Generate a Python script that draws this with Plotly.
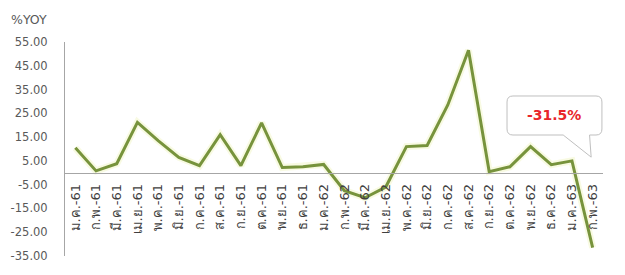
import plotly.graph_objects as go

months = ["ม.ค.-61", "ก.พ.-61", "มี.ค.-61", "เม.ย.-61", "พ.ค.-61", "มิ.ย.-61",
          "ก.ค.-61", "ส.ค.-61", "ก.ย.-61", "ต.ค.-61", "พ.ย.-61", "ธ.ค.-61",
          "ม.ค.-62", "ก.พ.-62", "มี.ค.-62", "เม.ย.-62", "พ.ค.-62", "มิ.ย.-62",
          "ก.ค.-62", "ส.ค.-62", "ก.ย.-62", "ต.ค.-62", "พ.ย.-62", "ธ.ค.-62",
          "ม.ค.-63", "ก.พ.-63"]
yoy = [10.5, 0.8, 3.8, 21.2, 13.5, 6.5,
       3.0, 16.0, 3.0, 21.0, 2.2, 2.5,
       3.5, -7.5, -10.5, -6.0, 11.0, 11.5,
       28.5, 51.5, 0.5, 2.5, 11.0, 3.4,
       5.0, -31.5]
y_ticks = [-35, -25, -15, -5, 5, 15, 25, 35, 45, 55]
y_min, y_max = -35, 55
callout_text = "-31.5%"

fig = go.Figure()
# soft glow under the line
fig.add_trace(go.Scatter(x=months, y=yoy, mode="lines",
                         line=dict(color="rgba(240,245,190,0.45)", width=7),
                         hoverinfo="skip", showlegend=False))
fig.add_trace(go.Scatter(x=months, y=yoy, mode="lines",
                         line=dict(color="#77933C", width=3),
                         showlegend=False))

zero_pos = (0 - y_min) / (y_max - y_min)

# page body has an 8px default margin; margins compensate for it
fig.update_layout(
    width=625, height=275,
    margin=dict(l=57, r=30, t=34, b=27, autoexpand=False),
    paper_bgcolor="white", plot_bgcolor="white",
    font=dict(family="'DejaVu Sans', Tahoma, 'Noto Sans', sans-serif", color="#595959"),
    xaxis=dict(
        type="category", anchor="free", position=zero_pos, automargin=False,
        showline=True, linecolor="#A6A6A6", linewidth=1,
        showgrid=False, zeroline=False,
        tickangle=-90, tickfont=dict(size=13, color="#404040"),
        ticks="", ticklabelstandoff=5, range=[-0.5, len(months) - 0.5],
    ),
    yaxis=dict(
        range=[y_min, y_max], tickvals=y_ticks, automargin=False,
        ticktext=[f"{v:.2f}" for v in y_ticks],
        tickfont=dict(size=11.5, color="#595959"),
        showline=True, linecolor="#A6A6A6", linewidth=1,
        showgrid=False, zeroline=False, ticks="",
        ticklabelstandoff=14,
    ),
)

fig.add_annotation(text="%YOY", xref="paper", yref="paper", x=-0.104, y=1.103,
                   xanchor="left", yanchor="middle", showarrow=False,
                   font=dict(size=12.5, color="#595959"))

# speech-bubble callout
L, R, T, B = 0.8216, 0.998, 0.7477, 0.5654
rx, ry = 0.011, 0.028
b1, b2, tx, ty = 0.926, 0.975, 0.978, 0.462
path = (f"M {L+rx},{T} L {R-rx},{T} Q {R},{T} {R},{T-ry} L {R},{B+ry} "
        f"Q {R},{B} {R-rx},{B} L {b2},{B} L {tx},{ty} L {b1},{B} "
        f"L {L+rx},{B} Q {L},{B} {L},{B+ry} L {L},{T-ry} Q {L},{T} {L+rx},{T} Z")
fig.add_shape(type="path", path=path, xref="paper", yref="paper",
              fillcolor="white", line=dict(color="#BFBFBF", width=1), layer="above")
fig.add_annotation(text=f"<b>{callout_text}</b>", xref="paper", yref="paper",
                   x=(L + R) / 2, y=(T + B) / 2, xanchor="center", yanchor="middle",
                   showarrow=False, font=dict(size=14, color="#E8262B"))

fig.write_html("out.html")
